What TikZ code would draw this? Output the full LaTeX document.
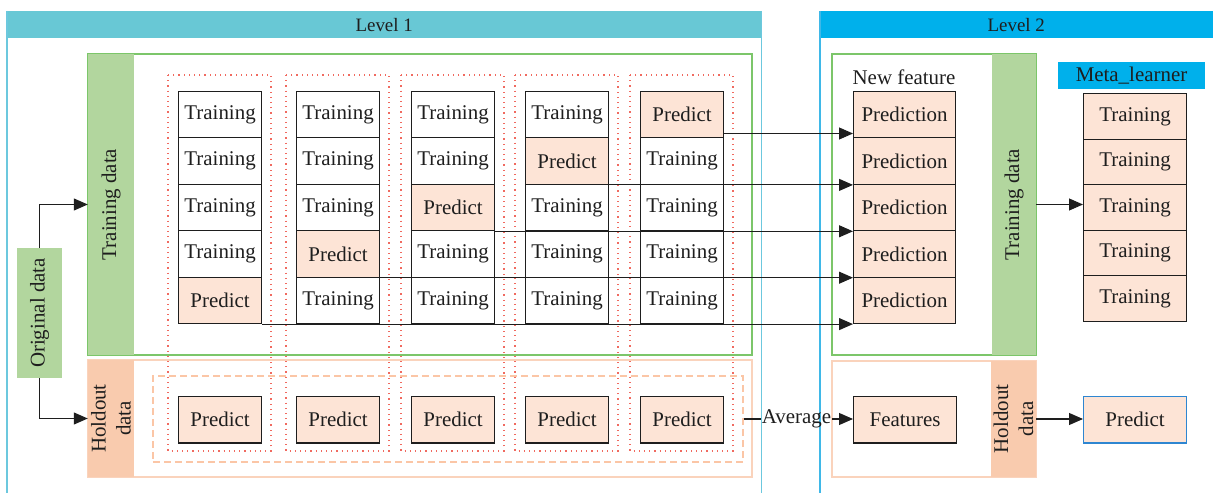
\documentclass[tikz,border=0pt]{standalone}
\usepackage{fontspec}
\setmainfont{Liberation Serif}
\usetikzlibrary{arrows.meta}

\definecolor{lvlone}{HTML}{68C8D5}
\definecolor{lvltwo}{HTML}{00B0EB}
\definecolor{lvloneline}{HTML}{6CC8DE}
\definecolor{lvltwoline}{HTML}{3FB8E8}
\definecolor{grnfill}{HTML}{B2D69E}
\definecolor{grnline}{HTML}{7CC66A}
\definecolor{orgfill}{HTML}{F9CBAE}
\definecolor{orgline}{HTML}{FAD3BC}
\definecolor{cellfill}{HTML}{FDE4D6}
\definecolor{dotred}{HTML}{F06A60}
\definecolor{dashorg}{HTML}{FBC6A6}
\definecolor{bluebox}{HTML}{2E86D1}
\definecolor{ink}{HTML}{1E1E1E}

\tikzset{
  txt/.style={font=\fontsize{21}{25}\selectfont, text=ink},
  cell/.style={txt, draw=ink, line width=1.1bp, minimum width=83bp,
    minimum height=46.4bp, inner sep=0pt, anchor=north west},
  traincell/.style={cell, fill=white},
  predcell/.style={cell, fill=cellfill},
  greenstrip/.style={txt, fill=grnfill, rotate=90, inner sep=0pt, align=center},
  orangestrip/.style={txt, fill=orgfill, rotate=90, inner sep=0pt, align=center},
  greenframe/.style={draw=grnline, line width=1.2bp},
  orangeframe/.style={draw=orgline, line width=1.2bp},
  foldbox/.style={draw=dotred, line width=1.1bp, dash pattern=on 1.2bp off 4bp},
  holdbox/.style={draw=dashorg, line width=1.2bp, dash pattern=on 7bp off 4bp,
    inner sep=0pt},
  link/.style={draw=ink, line width=1.1bp},
  arr/.style={link, -{Triangle[length=14bp,width=12bp]}},
  header/.style={font=\fontsize{19}{21}\selectfont, text=ink, inner sep=0pt,
    minimum height=27bp, anchor=north west},
}

\begin{document}
\begin{tikzpicture}[x=1bp,y=-1bp]
\useasboundingbox (0,0) rectangle (1213,493);

% ---------- Level headers and panel borders ----------
\node[header, fill=lvlone, minimum width=754bp] (l1) at (7,11) {Level 1};
\draw[lvloneline, line width=1.2bp] (l1.north west) -- ++(0,482);
\draw[lvloneline, line width=1.2bp] (l1.north east) -- ++(0,482);
\node[header, fill=lvltwo, minimum width=394bp] (l2) at (819,11) {Level 2};
\draw[lvltwoline, line width=1.4bp] ([xshift=1bp]l2.north west) -- ++(0,482);

% ---------- Level 1 frames ----------
\draw[greenframe] (88,54) rectangle (752,355);
\node[greenstrip, minimum width=301bp, minimum height=46bp] (ts1) at (111,204.5) {Training data};
\draw[orangeframe] (88,360) rectangle (752,477);
\node[orangestrip, minimum width=117bp, minimum height=46bp] (hs1) at (111,418.5) {Holdout\\data};

% original data
\node[greenstrip, minimum width=130bp, minimum height=45bp] (orig) at (39.5,313) {Original data};
\draw[arr] (orig.east) |- (ts1.north);
\draw[arr] (orig.west) |- (hs1.north);

% holdout predictions frame
\node[holdbox, minimum width=590bp, minimum height=86bp] (hold) at (448,419) {};

% ---------- folds ----------
\foreach \c/\x in {1/178,2/296,3/411,4/525,5/640} {
  \draw[foldbox] (\x-10,75) rectangle (\x+93,451);
  \pgfmathtruncatemacro\p{6-\c}
  \foreach \r in {1,...,5} {
    \ifnum\r=\p
      \node[predcell] (c\c r\r) at (\x,{91+46.4*(\r-1)}) {Predict};
    \else
      \node[traincell] (c\c r\r) at (\x,{91+46.4*(\r-1)}) {Training};
    \fi
  }
  \node[predcell] (h\c) at (\x,396) {Predict};
}

% ---------- Level 2 frames ----------
\draw[greenframe] (832,54) rectangle (1036,355);
\node[greenstrip, minimum width=301bp, minimum height=44bp] (ts2) at (1014,204.5) {Training data};
\draw[orangeframe] (832,361) rectangle (1036,477);
\node[orangestrip, minimum width=116bp, minimum height=45bp] (hs2) at (1013.5,419) {Holdout\\data};

\node[txt, inner sep=0pt] (nf) at (904,77) {New feature};
\foreach \r in {1,...,5}
  \node[predcell, minimum width=102bp] (n\r) at (853,{91+46.4*(\r-1)}) {Prediction};

\node[predcell, minimum width=103bp] (feat) at (853,396) {Features};

% out-of-fold predictions become the new feature
\draw[arr] ([yshift=5bp]c5r1.south east) -- ([yshift=5bp]c5r1.south east -| n1.west);
\draw[arr] (c4r2.south east) -- (c4r2.south east -| n2.west);
\draw[arr] (c3r3.south east) -- (c3r3.south east -| n3.west);
\draw[arr] (c2r4.south east) -- (c2r4.south east -| n4.west);
\draw[arr] (c1r5.south east) -- (c1r5.south east -| n5.west);

% averaged holdout predictions
\node[txt, inner sep=1bp] (avg) at (796.5,419) {Average};
\draw[link] (hold.east) -- (avg.west);
\draw[arr] (avg.east) -- (avg.east -| feat.west);

% ---------- meta learner ----------
\node[txt, fill=lvltwo, minimum width=147bp, minimum height=27bp, inner sep=0pt] (meta) at (1131.5,75.5) {Meta\_learner};
\foreach \r in {1,...,5}
  \node[predcell, minimum width=103bp, minimum height=45.6bp] (m\r) at (1083,{93+45.6*(\r-1)}) {Training};
\node[predcell, draw=bluebox, minimum width=103bp] (mp) at (1083,396) {Predict};

\draw[arr] (ts2.south) -- (ts2.south -| m3.west);
\draw[arr] (hs2.south) -- (hs2.south -| mp.west);
\end{tikzpicture}
\end{document}
